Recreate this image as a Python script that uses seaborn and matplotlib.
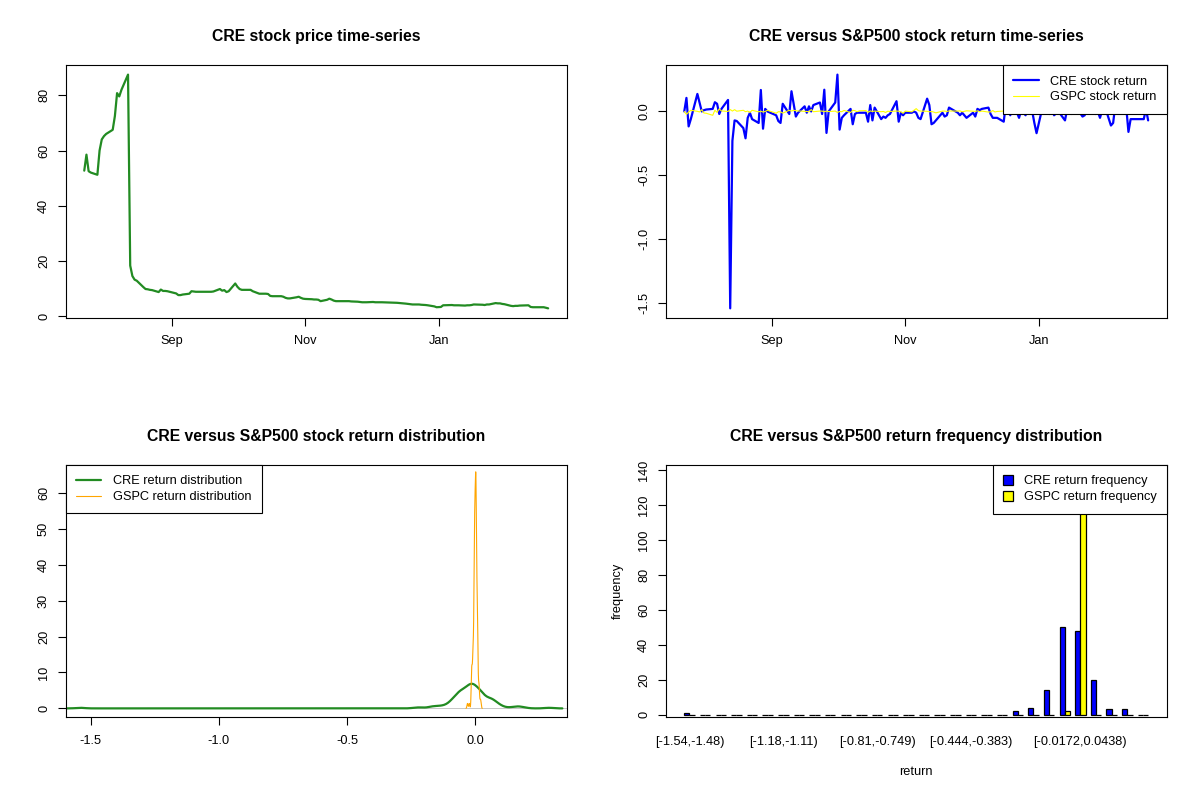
import numpy as np
import pandas as pd
import matplotlib
matplotlib.use("Agg")
import matplotlib.pyplot as plt
from matplotlib.lines import Line2D
from matplotlib.patches import Patch
import seaborn as sns

# trading days 2024-07-23 .. 2025-02-20 (exchange holidays removed)
holidays = ["2024-09-02", "2024-11-28", "2024-12-25", "2025-01-01",
            "2025-01-09", "2025-01-20", "2025-02-17"]
dates = pd.bdate_range("2024-07-23", "2025-02-20", freq="C", holidays=holidays)

cre_price = [52.7, 58.5, 52.5, 52.0, 51.2, 60.0, 64.0, 65.2, 66.0, 67.5,
             72.5, 80.8, 79.6, 82.0, 87.5, 18.3, 14.5, 13.2, 12.8, 10.5,
             9.8, 9.7, 9.5, 9.4, 8.7, 9.6, 9.1, 9.1, 9.0, 8.2,
             7.6, 7.6, 7.8, 8.1, 9.0, 8.9, 8.8, 8.8, 8.8, 8.8,
             8.8, 8.8, 8.9, 9.8, 9.2, 9.4, 8.7, 9.0, 11.8, 10.6,
             9.8, 9.5, 9.5, 9.5, 9.0, 8.7, 8.4, 8.1, 8.1, 8.0,
             7.3, 7.2, 7.2, 7.2, 7.0, 6.6, 6.4, 6.4, 6.8, 7.0,
             6.6, 6.3, 6.2, 6.1, 6.0, 6.0, 5.9, 5.4, 5.9, 6.3,
             6.0, 5.6, 5.4, 5.4, 5.4, 5.4, 5.4, 5.3, 5.2, 5.1,
             5.0, 5.0, 5.1, 5.0, 5.0, 5.0, 5.0, 4.9, 4.9, 4.8,
             4.8, 4.8, 4.6, 4.5, 4.4, 4.3, 4.2, 4.2, 4.1, 4.0,
             3.9, 3.5, 3.2, 3.3, 3.9, 4.0, 4.0, 3.9, 3.9, 3.8,
             3.9, 3.9, 4.0, 4.2, 4.1, 4.0, 4.2, 4.2, 4.7, 4.6,
             4.6, 4.4, 4.3, 3.7, 3.6, 3.7, 3.7, 3.8, 3.9, 3.9,
             3.3, 3.2, 3.2, 3.2, 3.0, 2.8]

cre_ret = [0.0, 0.106, -0.117, -0.06, 0.137, 0.07, 0.0, 0.01, 0.015, 0.02,
           0.072, 0.06, -0.02, 0.02, 0.09, -1.54, -0.23, -0.07, -0.075, -0.13,
           -0.21, -0.05, -0.01, -0.06, -0.09, 0.168, -0.135, 0.02, 0.0, -0.03,
           -0.075, -0.09, 0.06, -0.02, 0.158, 0.06, -0.04, -0.01, 0.04, -0.01,
           0.04, 0.0, 0.05, 0.07, -0.02, 0.17, -0.168, 0.0, 0.07, 0.288,
           -0.142, -0.05, -0.03, 0.02, -0.10, -0.02, -0.01, -0.01, -0.01, -0.08,
           0.05, -0.07, 0.03, -0.06, -0.04, -0.05, -0.03, -0.02, 0.08, -0.08,
           -0.01, -0.03, -0.01, -0.01, 0.0, -0.01, -0.05, -0.06, 0.10, 0.05,
           -0.10, -0.09, -0.07, -0.01, -0.04, -0.03, 0.03, 0.02, -0.01, -0.03,
           -0.01, -0.05, -0.01, -0.04, 0.02, 0.01, 0.02, 0.03, -0.02, -0.05,
           -0.05, -0.05, -0.08, 0.06, 0.02, -0.03, 0.08, -0.05, 0.01, -0.03,
           0.19, -0.09, -0.17, -0.02, 0.03, -0.02, 0.07, -0.03, 0.0, -0.07,
           0.02, 0.01, -0.02, 0.06, -0.04, -0.03, 0.02, 0.09, -0.02, 0.0,
           -0.05, 0.01, 0.05, -0.11, -0.09, 0.05, 0.02, -0.01, 0.03, -0.16,
           -0.06, -0.06, -0.06, -0.06, 0.02, -0.07]

gspc_ret = [0.0, -0.023, -0.004, 0.009, 0.001, -0.004, 0.014, -0.012, -0.014, -0.030,
            0.009, -0.007, 0.020, 0.004, 0.000, 0.015, 0.003, 0.014, 0.002, 0.009,
            -0.002, 0.003, -0.008, 0.009, -0.003, 0.002, -0.005, 0.000, 0.009, -0.014,
            -0.002, -0.003, -0.013, 0.009, 0.003, 0.009, 0.006, 0.004, 0.001, 0.000,
            -0.003, 0.015, -0.002, 0.003, 0.003, -0.002, 0.003, -0.001, 0.003, -0.008,
            0.000, -0.002, 0.008, -0.009, 0.009, 0.006, -0.002, 0.005, 0.007, -0.007,
            0.004, 0.000, 0.003, -0.002, 0.000, -0.008, 0.002, 0.000, 0.003, 0.002,
            -0.003, -0.014, 0.003, -0.003, 0.010, 0.022, 0.006, 0.003, 0.001, -0.003,
            0.000, -0.005, -0.011, 0.003, 0.003, 0.000, 0.004, 0.003, 0.003, 0.005,
            -0.003, 0.005, 0.002, 0.000, 0.005, -0.002, 0.003, -0.005, -0.003, 0.007,
            -0.004, 0.000, 0.003, -0.003, -0.014, -0.001, 0.009, 0.006, 0.009, 0.000,
            -0.009, -0.009, -0.003, -0.002, 0.011, 0.005, -0.009, 0.002, -0.013, 0.002,
            0.001, 0.016, -0.002, 0.009, 0.008, 0.005, 0.004, -0.003, -0.013, 0.008,
            -0.004, 0.004, -0.004, -0.007, 0.006, 0.003, 0.003, -0.008, 0.006, 0.000,
            -0.003, 0.009, 0.000, 0.002, 0.002, 0.000]

# return-frequency table (30 bins)
bin_edges = ["-1.54", "-1.48", "-1.42", "-1.36", "-1.3", "-1.24", "-1.18", "-1.11",
             "-1.05", "-0.993", "-0.932", "-0.871", "-0.81", "-0.749", "-0.688",
             "-0.627", "-0.566", "-0.505", "-0.444", "-0.383", "-0.322", "-0.261",
             "-0.2", "-0.139", "-0.0782", "-0.0172", "0.0438", "0.105", "0.166",
             "0.227", "0.288"]
cre_freq = [1, 0, 0, 0, 0, 0, 0, 0, 0, 0, 0, 0, 0, 0, 0,
            0, 0, 0, 0, 0, 0, 2, 4, 14, 50, 48, 20, 3, 3, 0]
gspc_freq = [0, 0, 0, 0, 0, 0, 0, 0, 0, 0, 0, 0, 0, 0, 0,
             0, 0, 0, 0, 0, 0, 0, 0, 0, 2, 143, 0, 0, 0, 0]
shown_bins = [0, 6, 12, 18, 25]

bin_labels = [f"[{a},{b})" for a, b in zip(bin_edges[:-1], bin_edges[1:])]

sns.set_style("ticks")
plt.rcParams.update({
    "font.family": ["Liberation Sans", "DejaVu Sans"],
    "font.size": 9.2,
    "axes.unicode_minus": False,
    "axes.edgecolor": "black",
    "axes.linewidth": 0.8,
    "xtick.color": "black",
    "ytick.color": "black",
    "text.color": "black",
    "axes.labelcolor": "black",
})

GREEN = "#228B22"


def r_bandwidth(x):
    # same rule as R's bw.nrd0
    x = np.asarray(x)
    sd = x.std(ddof=1)
    q75, q25 = np.percentile(x, [75, 25])
    return 0.9 * min(sd, (q75 - q25) / 1.34) * len(x) ** -0.2, sd


def style_axes(ax, ticks=True):
    ax.tick_params(axis="x", direction="out", length=5.8 if ticks else 0,
                   width=0.8, pad=7 if ticks else 14, labelsize=9.2)
    ax.tick_params(axis="y", direction="out", length=5.8, width=0.8,
                   pad=5.5, labelsize=9.2)
    for s in ax.spines.values():
        s.set_visible(True)
        s.set_color("black")
        s.set_linewidth(0.8)


def box_legend(ax, handles, labels, loc, **kw):
    leg = ax.legend(handles, labels, loc=loc, frameon=True, fancybox=False,
                    edgecolor="black", framealpha=1, borderaxespad=0,
                    borderpad=0.8, labelspacing=0.3, fontsize=9.2, **kw)
    leg.get_frame().set_linewidth(0.8)
    return leg


def date_axis(ax):
    ax.set_xticks([pd.Timestamp("2024-09-01"), pd.Timestamp("2024-11-01"),
                   pd.Timestamp("2025-01-01")])
    ax.set_xticklabels(["Sep", "Nov", "Jan"])
    ax.margins(x=0.04, y=0.04)
    ax.set_xlabel("")
    ax.set_ylabel("")


fig = plt.figure(figsize=(12, 8), dpi=100)
ax1 = fig.add_axes([0.05475, 0.6029, 0.4175, 0.3155])
ax2 = fig.add_axes([0.55475, 0.6029, 0.4175, 0.3155])
ax3 = fig.add_axes([0.05475, 0.10375, 0.4175, 0.315])
ax4 = fig.add_axes([0.55475, 0.10375, 0.4175, 0.315])

title_kw = dict(fontsize=11.3, fontweight="bold", pad=17.5)

# price
price_df = pd.DataFrame({"date": dates, "price": cre_price})
sns.lineplot(data=price_df, x="date", y="price", color=GREEN, lw=1.6,
             estimator=None, ax=ax1)
date_axis(ax1)
ax1.set_yticks([0, 20, 40, 60, 80])
ax1.set_yticklabels(["0", "20", "40", "60", "80"], rotation=90, va="center")
ax1.set_title("CRE stock price time-series", **title_kw)
style_axes(ax1)

# returns
ret_df = pd.DataFrame({"date": dates, "CRE": cre_ret, "GSPC": gspc_ret})
sns.lineplot(data=ret_df, x="date", y="CRE", color="blue", lw=1.6,
             estimator=None, ax=ax2)
sns.lineplot(data=ret_df, x="date", y="GSPC", color="yellow", lw=0.8,
             estimator=None, ax=ax2)
date_axis(ax2)
ax2.set_yticks([-1.5, -1.0, -0.5, 0.0])
ax2.set_yticklabels(["-1.5", "-1.0", "-0.5", "0.0"], rotation=90, va="center")
ax2.set_title("CRE versus S&P500 stock return time-series", **title_kw)
box_legend(ax2, [Line2D([], [], color="blue", lw=1.6),
                 Line2D([], [], color="yellow", lw=0.8)],
           ["CRE stock return", "GSPC stock return"], "upper right",
           handlelength=2.0, handletextpad=0.9)
style_axes(ax2)

# densities
bw_c, sd_c = r_bandwidth(cre_ret)
bw_g, sd_g = r_bandwidth(gspc_ret)
sns.kdeplot(x=cre_ret, bw_method=bw_c / sd_c, cut=3, gridsize=512,
            color=GREEN, lw=1.6, ax=ax3)
sns.kdeplot(x=gspc_ret, bw_method=bw_g / sd_g, cut=3, gridsize=512,
            color="orange", lw=0.8, ax=ax3)
ax3.axhline(0, color="#BEBEBE", lw=0.6, zorder=0)
ax3.set_xlim(-1.597, 0.357)
ax3.set_ylim(-2.4, 67.8)
ax3.set_xticks([-1.5, -1.0, -0.5, 0.0])
ax3.set_xticklabels(["-1.5", "-1.0", "-0.5", "0.0"])
ax3.set_yticks([0, 10, 20, 30, 40, 50, 60])
ax3.set_yticklabels(["0", "10", "20", "30", "40", "50", "60"],
                    rotation=90, va="center")
ax3.set_xlabel("")
ax3.set_ylabel("")
ax3.set_title("CRE versus S&P500 stock return distribution", **title_kw)
box_legend(ax3, [Line2D([], [], color=GREEN, lw=1.6),
                 Line2D([], [], color="orange", lw=0.8)],
           ["CRE return distribution", "GSPC return distribution"], "upper left",
           handlelength=2.0, handletextpad=0.9)
style_axes(ax3)

# frequency bars
freq_df = pd.DataFrame({
    "bin": bin_labels * 2,
    "count": cre_freq + gspc_freq,
    "series": ["CRE"] * len(bin_labels) + ["GSPC"] * len(bin_labels),
})
sns.barplot(data=freq_df, x="bin", y="count", hue="series", order=bin_labels,
            hue_order=["CRE", "GSPC"], palette=["blue", "yellow"], width=2 / 3,
            edgecolor="black", linewidth=0.9, errorbar=None, legend=False,
            saturation=1, ax=ax4)
ax4.set_xlim(-1.52, len(bin_labels) - 1 + 1.52)
ax4.set_ylim(-1.43, 143)
ax4.set_xticks(shown_bins)
ax4.set_xticklabels([bin_labels[i] for i in shown_bins])
ax4.set_yticks([0, 20, 40, 60, 80, 100, 120, 140])
ax4.set_yticklabels(["0", "20", "40", "60", "80", "100", "120", "140"],
                    rotation=90, va="center")
ax4.set_xlabel("return", fontsize=9.2, labelpad=12.5)
ax4.set_ylabel("frequency", fontsize=9.2, labelpad=10)
ax4.set_title("CRE versus S&P500 return frequency distribution", **title_kw)
box_legend(ax4, [Patch(facecolor="blue", edgecolor="black", lw=0.9),
                 Patch(facecolor="yellow", edgecolor="black", lw=0.9)],
           ["CRE return frequency", "GSPC return frequency"], "upper right",
           handlelength=0.75, handleheight=0.75, handletextpad=0.85)
style_axes(ax4, ticks=False)

fig.savefig("out.png", dpi=100)
